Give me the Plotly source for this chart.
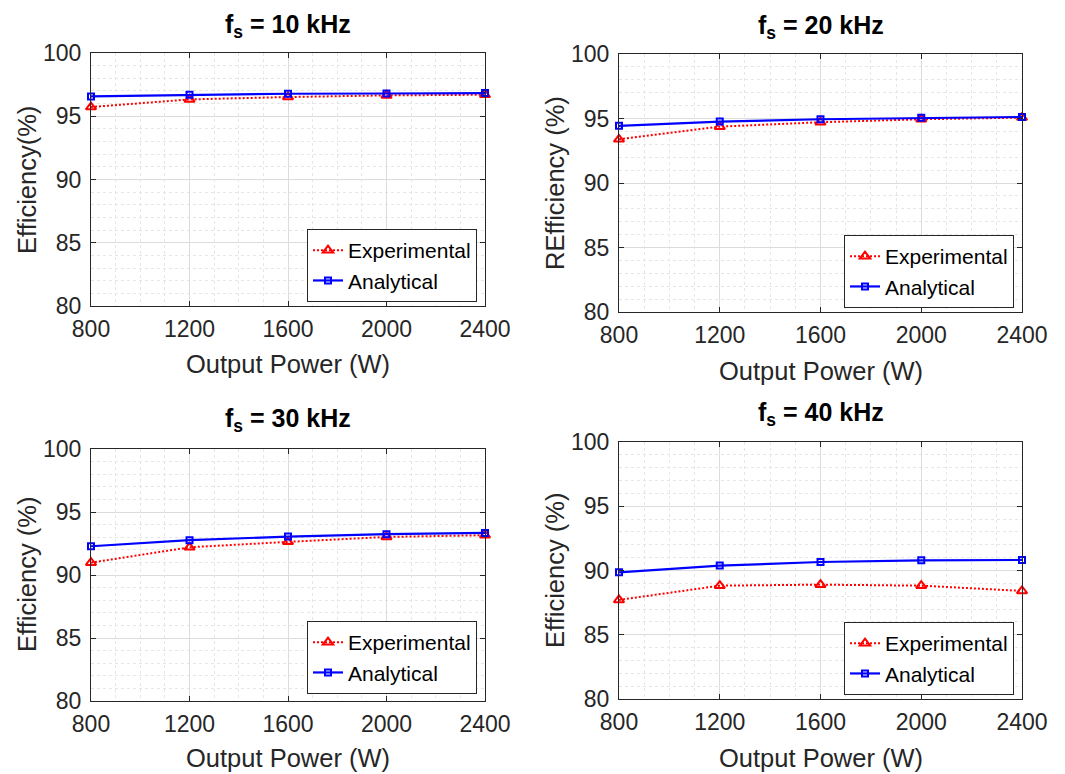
import plotly.graph_objects as go

# Output power operating points (W)
power = [800, 1200, 1600, 2000, 2400]

# Efficiency (%) at each switching frequency
exp_10 = [95.73, 96.33, 96.52, 96.65, 96.70]
ana_10 = [96.57, 96.70, 96.78, 96.80, 96.83]
exp_20 = [93.39, 94.37, 94.71, 94.94, 95.07]
ana_20 = [94.43, 94.76, 94.94, 95.05, 95.12]
exp_30 = [90.98, 92.20, 92.63, 93.02, 93.16]
ana_30 = [92.28, 92.76, 93.05, 93.24, 93.34]
exp_40 = [87.71, 88.82, 88.90, 88.82, 88.41]
ana_40 = [89.86, 90.38, 90.66, 90.79, 90.82]

freq_labels = ["10 kHz", "20 kHz", "30 kHz", "40 kHz"]
y_titles = ["Efficiency(%)", "REfficiency (%)", "Efficiency (%)", "Efficiency (%)"]
x_title = "Output Power (W)"
x_ticks = [800, 1200, 1600, 2000, 2400]
y_ticks = [80, 85, 90, 95, 100]

W, H = 1065, 774
FONT = "Liberation Sans, Arial, sans-serif"
AX = "#262626"


def px(x):
    return x / W


def py(y):
    return 1 - y / H


# pixel layout of each panel: plot box (left, right, top, bottom), legend corner,
# y-title centre, x-title centre y, title centre y
panels = [
    dict(exp=exp_10, ana=ana_10, box=(91, 485, 53, 306), leg=(477, 302),
         yt=(27, 180), xt=364, tt=26),
    dict(exp=exp_20, ana=ana_20, box=(619, 1022, 54, 312), leg=(1014, 308),
         yt=(555, 183), xt=371, tt=27),
    dict(exp=exp_30, ana=ana_30, box=(91, 485, 449, 701), leg=(477, 694),
         yt=(27, 575), xt=758, tt=420),
    dict(exp=exp_40, ana=ana_40, box=(619, 1022, 442, 699), leg=(1014, 695),
         yt=(555, 571), xt=758, tt=414),
]

fig = go.Figure()
layout = dict(
    width=W, height=H, margin=dict(l=0, r=0, t=0, b=0, autoexpand=False),
    paper_bgcolor="white", plot_bgcolor="white",
    font=dict(family=FONT, color=AX),
    showlegend=True,
)
annotations = []

for i, p in enumerate(panels):
    n = "" if i == 0 else str(i + 1)
    xa, ya = "x" + n, "y" + n
    leg = "legend" + n
    l, r, t, b = p["box"]

    fig.add_trace(go.Scatter(
        x=power, y=p["exp"], name="Experimental", mode="lines+markers",
        xaxis=xa, yaxis=ya, legend=leg, cliponaxis=False,
        line=dict(color="#ff0000", width=2, dash="2px,2px"),
        marker=dict(symbol="triangle-up-open", size=9, color="#ff0000",
                    line=dict(width=2, color="#ff0000")),
    ))
    fig.add_trace(go.Scatter(
        x=power, y=p["ana"], name="Analytical", mode="lines+markers",
        xaxis=xa, yaxis=ya, legend=leg, cliponaxis=False,
        line=dict(color="#0000ff", width=2.2),
        marker=dict(symbol="square-open", size=6, color="#0000ff",
                    line=dict(width=2, color="#0000ff")),
    ))

    common = dict(
        ticks="inside", ticklen=5, tickcolor=AX, tickwidth=1,
        showline=True, linecolor=AX, linewidth=1, mirror="ticks",
        showgrid=True, gridcolor="#dcdcdc", gridwidth=1, zeroline=False,
        tickfont=dict(size=23, color=AX, family=FONT),
        fixedrange=True, automargin=False,
    )
    layout["xaxis" + n] = dict(
        common, domain=[px(l), px(r)], anchor=ya, range=[800, 2400],
        tickvals=x_ticks, ticklabelstandoff=2,
        minor=dict(dtick=100, tick0=0, showgrid=True, gridcolor="#e6e6e6",
                   griddash="dot", gridwidth=1),
    )
    layout["yaxis" + n] = dict(
        common, domain=[py(b), py(t)], anchor=xa, range=[80, 100],
        tickvals=y_ticks, ticklabelstandoff=4,
        minor=dict(dtick=1, tick0=0, showgrid=True, gridcolor="#e6e6e6",
                   griddash="dot", gridwidth=1),
    )
    layout[leg] = dict(
        x=px(p["leg"][0]), y=py(p["leg"][1]), xanchor="right", yanchor="bottom",
        bgcolor="white", bordercolor=AX, borderwidth=1,
        font=dict(size=21, color="black", family=FONT),
        tracegroupgap=0, itemwidth=30,
    )

    cx = (l + r) / 2
    annotations.append(dict(
        text="<b>f<sub>s</sub> = " + freq_labels[i] + "</b>",
        x=px(cx), y=py(p["tt"]), xref="paper", yref="paper",
        xanchor="center", yanchor="middle", showarrow=False,
        font=dict(size=25, color="black", family=FONT),
    ))
    annotations.append(dict(
        text=x_title, x=px(cx), y=py(p["xt"]), xref="paper", yref="paper",
        xanchor="center", yanchor="middle", showarrow=False,
        font=dict(size=25.5, color=AX, family=FONT),
    ))
    annotations.append(dict(
        text=y_titles[i], x=px(p["yt"][0]), y=py(p["yt"][1]),
        xref="paper", yref="paper", xanchor="center", yanchor="middle",
        textangle=-90, showarrow=False,
        font=dict(size=25.5, color=AX, family=FONT),
    ))

layout["annotations"] = annotations
fig.update_layout(**layout)
fig.write_html("out.html")
